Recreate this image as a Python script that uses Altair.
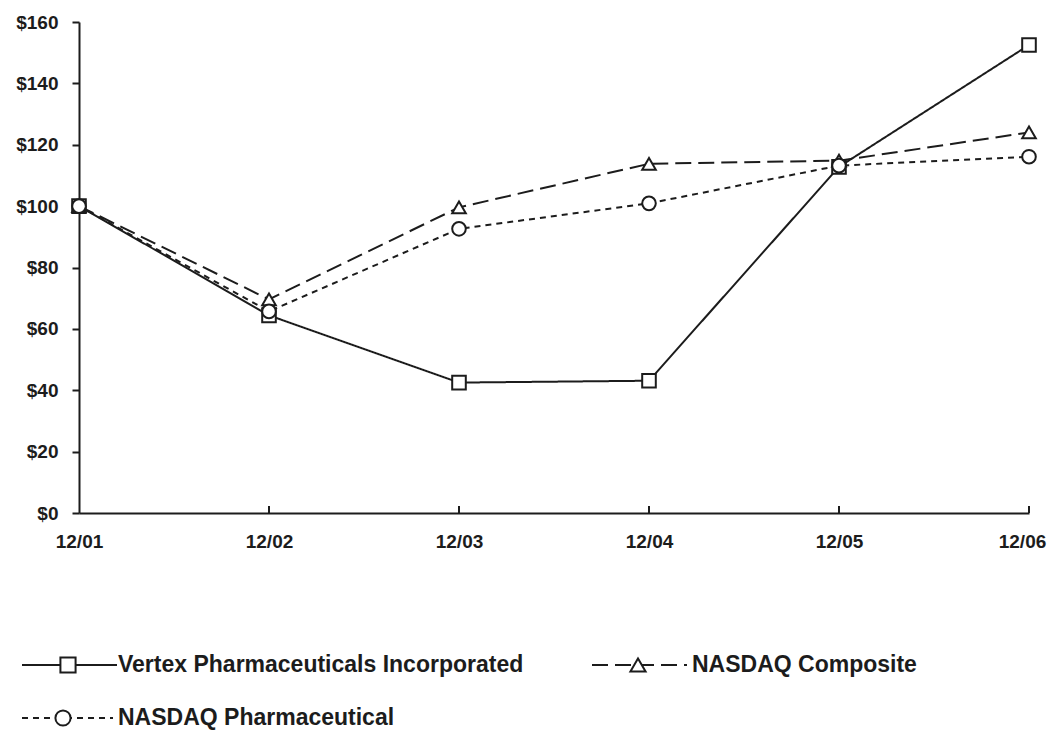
import altair as alt
import pandas as pd

dates = ["12/01", "12/02", "12/03", "12/04", "12/05", "12/06"]
series = ["Vertex Pharmaceuticals Incorporated", "NASDAQ Composite", "NASDAQ Pharmaceutical"]
vertex = [100, 64.4, 42.5, 43.1, 112.8, 152.5]
composite = [100, 69.6, 99.6, 113.8, 114.8, 124.0]
pharma = [100, 65.7, 92.6, 100.9, 113.2, 116.1]
y_ticks = [0, 20, 40, 60, 80, 100, 120, 140, 160]

rows = []
for name, vals in zip(series, [vertex, composite, pharma]):
    for d, v in zip(dates, vals):
        rows.append({"date": d, "series": name, "value": v})
df = pd.DataFrame(rows)

W, H = 950, 491
FONT = "Liberation Sans"
INK = "#1c1c1c"
dashes = [[1, 0], [16, 7], [6, 5]]
shapes = ["square", "triangle-up", "circle"]

x_scale = alt.Scale(type="point", padding=0, domain=dates)
y_scale = alt.Scale(domain=[0, 160], nice=False, zero=True)

x_enc = alt.X(
    "date:O",
    scale=x_scale,
    axis=alt.Axis(title=None, labelAngle=0, labelFont=FONT, labelFontWeight="bold",
                  labelFontSize=19, labelColor=INK, labelPadding=19, ticks=False,
                  labelOffset=alt.ExprRef(f"datum.value === '{dates[-1]}' ? -7 : 0"),
                  domainColor=INK, domainWidth=2, labelFlush=False, grid=False),
)
y_enc = alt.Y(
    "value:Q",
    scale=y_scale,
    axis=alt.Axis(title=None, values=y_ticks, format="$.0f", labelFont=FONT,
                  labelFontWeight="bold", labelFontSize=19, labelColor=INK,
                  labelPadding=14, tickSize=7, tickWidth=2, tickColor=INK,
                  domainColor=INK, domainWidth=2, grid=False),
)

base = alt.Chart(df)

lines = base.mark_line(strokeWidth=2, color=INK).encode(
    x=x_enc,
    y=y_enc,
    strokeDash=alt.StrokeDash("series:N", scale=alt.Scale(domain=series, range=dashes), legend=None),
    detail="series:N",
)

points = base.mark_point(filled=False, fill="white", fillOpacity=1, stroke=INK,
                         strokeWidth=2, size=185, opacity=1).encode(
    x=alt.X("date:O", scale=x_scale),
    y=alt.Y("value:Q", scale=y_scale),
    shape=alt.Shape("series:N", scale=alt.Scale(domain=series, range=shapes), legend=None),
)

# inward x ticks
tick_df = pd.DataFrame({"date": dates[1:]})
xticks = alt.Chart(tick_df).mark_rule(color=INK, strokeWidth=2).encode(
    x=alt.X("date:O", scale=x_scale),
    y=alt.value(H),
    y2=alt.value(H - 7),
)

# custom legend (pixel positions relative to the plot area)
legend_items = [
    (series[0], dashes[0], shapes[0], -57, 38, -11, 39, 643),
    (series[1], dashes[1], shapes[1], 513, 608, 559, 613, 643),
    (series[2], dashes[2], shapes[2], -57, 34, -16, 39, 696),
]
legend_layers = []
for name, dash, shape, lx1, lx2, mx, tx, ly in legend_items:
    ldf = pd.DataFrame({"label": [name]})
    lc = alt.Chart(ldf)
    legend_layers.append(lc.mark_rule(color=INK, strokeWidth=2, strokeDash=dash).encode(
        x=alt.value(lx1), x2=alt.value(lx2), y=alt.value(ly)))
    legend_layers.append(lc.mark_point(filled=False, fill="white", fillOpacity=1, stroke=INK,
                                       strokeWidth=2, size=230, shape=shape, opacity=1).encode(
        x=alt.value(mx), y=alt.value(ly)))
    legend_layers.append(lc.mark_text(font=FONT, fontWeight="bold", fontSize=23, color=INK,
                                      align="left", baseline="middle").encode(
        x=alt.value(tx), y=alt.value(ly), text="label:N"))

chart = alt.layer(lines, xticks, points, *legend_layers).properties(
    width=W, height=H,
    background="white",
    autosize=alt.AutoSizeParams(type="none"),
    padding={"left": 71, "top": 14, "right": 18, "bottom": 218},
).configure_view(stroke=None)

chart.save("out.html", embed_options={"renderer": "svg", "actions": False})
